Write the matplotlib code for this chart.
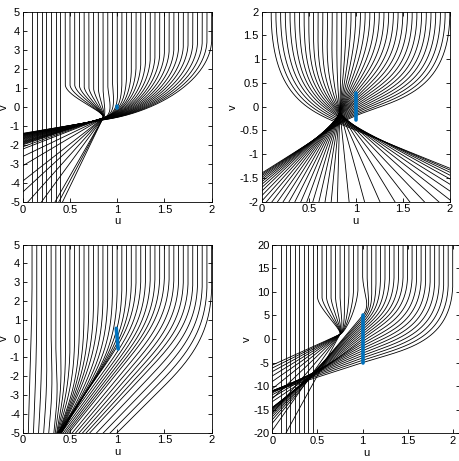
import numpy as np
import matplotlib.pyplot as plt

plt.rcParams['font.family'] = ['Liberation Sans', 'DejaVu Sans']
plt.rcParams['font.size'] = 8
plt.rcParams['axes.unicode_minus'] = False

blue = '#0072BD'

# starting u of every curve at the top of each panel
c_top = np.arange(0.1, 2.001, 0.05)

# knots over c: bend start v, focus point (u, v), exit slope du/d(-v), arm lengths
# panel 1 (top left)
p1_c = [0.10, 0.40, 0.45, 0.55, 0.65, 0.75, 0.85, 0.90, 1.00, 1.25, 1.50, 1.75, 2.00]
p1_vs = [1.0, 1.0, 1.2, 1.2, 1.1, 1.0, 1.0, 1.2, 1.6, 2.4, 3.0, 3.4, 3.6]
p1_fu = [0.10, 0.40, 0.85, 0.85, 0.85, 0.85, 0.85, 0.86, 0.87, 0.87, 0.88, 0.90, 0.92]
p1_fv = [0.0, 0.0, -0.58, -0.58, -0.58, -0.58, -0.58, -0.56, -0.54, -0.56, -0.58, -0.60, -0.62]
p1_k = [0.0, 0.0, -0.097, -0.115, -0.18, -0.256, -0.42, -0.52, -0.6, -0.7, -0.85, -1.03, -1.2]
p1_a = [0.4, 0.4, 0.25, 0.25, 0.25, 0.25, 0.3, 0.35, 0.35, 0.3, 0.3, 0.3, 0.3]
p1_b = [0.1, 0.1, 0.15, 0.15, 0.15, 0.15, 0.15, 0.35, 0.4, 0.4, 0.4, 0.4, 0.4]

# panel 2 (top right)
p2_c = [0.10, 0.30, 0.50, 0.70, 0.83, 1.00, 1.30, 1.60, 2.00]
p2_vs = [2.0] * 9
p2_fu = [0.83] * 9
p2_fv = [-0.36, -0.23, -0.14, -0.09, -0.08, -0.086, -0.125, -0.2, -0.36]
p2_k = [1.25, 0.907, 0.565, 0.223, 0.0, -0.116, -0.321, -0.526, -0.8]
p2_a = [0.6, 0.5, 0.4, 0.35, 0.3, 0.35, 0.45, 0.55, 0.6]
p2_b = [0.3, 0.35, 0.4, 0.4, 0.4, 0.4, 0.4, 0.35, 0.3]

# panel 3 (bottom left): focus = point on each exit line
p3_c = [0.10, 0.35, 0.45, 0.60, 0.80, 1.00, 1.20, 1.50, 1.80, 2.00]
p3_vs = [4.0, 0.0, 1.5, 2.0, 2.3, 2.9, 3.3, 3.5, 3.1, 3.0]
p3_fu = [0.065, 0.35, 0.395, 0.45, 0.49, 0.70, 0.77, 0.97, 1.20, 1.50]
p3_fv = [-4.0, -4.0, -4.0, -4.0, -4.0, -2.58, -2.14, -2.0, -2.36, -2.5]
p3_k = [-0.005, -0.02, -0.035, -0.07, -0.095, -0.12, -0.14, -0.16, -0.185, -0.2]
p3_a = [0.4] * 10
p3_b = [0.4] * 10

# panel 4 (bottom right)
p4_c = [0.10, 0.45, 0.50, 0.60, 0.70, 0.80, 0.95, 1.00, 1.50, 2.00]
p4_vs = [10.0, 10.0, 9.0, 9.0, 9.0, 10.0, 11.0, 14.0, 14.0, 12.0]
p4_fu = [0.10, 0.45, 0.75, 0.75, 0.75, 0.75, 0.75, 1.00, 1.00, 1.00]
p4_fv = [0.0, 0.0, 1.0, 1.0, 1.0, 1.0, 1.0, 5.0, 0.0, -5.0]
p4_k = [0.0, 0.0, -0.0286, -0.045, -0.065, -0.085, -0.115, -0.0438, -0.069, -0.162]
p4_a = [0.4, 0.4, 0.25, 0.25, 0.25, 0.3, 0.35, 0.5, 0.5, 0.5]
p4_b = [0.1, 0.1, 0.12, 0.12, 0.12, 0.15, 0.15, 0.35, 0.35, 0.35]

# blue marks
b1_u, b1_v = [1.0, 1.0], [-0.04, 0.04]
b2_u, b2_v = [1.0, 1.0], [-0.28, 0.28]
b3_u, b3_v = [0.99, 1.01], [0.55, -0.55]
b4_u, b4_v = [1.0, 1.0], [-5.0, 5.0]


def ray(c, vs, fu, fv, k, a, b, ur, vr):
    p0 = np.array([c / ur, vs / vr])
    p3 = np.array([fu / ur, fv / vr])
    d = np.array([k / ur, -1.0 / vr])
    d = d / np.hypot(*d)
    L = np.hypot(*(p3 - p0))
    p1 = p0 + np.array([0.0, -a * L])
    p2 = p3 - b * L * d
    t = np.linspace(0, 1, 250)[:, None]
    bez = (1 - t)**3 * p0 + 3 * (1 - t)**2 * t * p1 + 3 * (1 - t) * t**2 * p2 + t**3 * p3
    tail = p3 + np.linspace(0, 3, 30)[1:, None] * d
    pts = np.vstack([[[c / ur, 10.0]], bez, tail])
    return pts[:, 0] * ur, pts[:, 1] * vr


def panel(ax, knots, ylim, yticks, bu, bv, xmax=2.0):
    ck = knots[0]
    ur, vr = 2.0, ylim[1] - ylim[0]
    for c in c_top:
        vals = [np.interp(c, ck, arr) for arr in knots[1:]]
        u, v = ray(c, *vals, ur, vr)
        ax.plot(u, v, color='black', lw=0.6)
    ax.plot(bu, bv, color=blue, lw=2.6, solid_capstyle='round')
    ax.set_xlim(0, xmax)
    ax.set_ylim(*ylim)
    ax.set_xticks([0, 0.5, 1, 1.5, 2])
    ax.set_xticklabels(['0', '0.5', '1', '1.5', '2'])
    ax.set_yticks(yticks)
    ax.set_yticklabels(['%g' % t for t in yticks])
    ax.tick_params(direction='in', top=True, right=True, length=3, width=0.6, pad=2)
    for s in ax.spines.values():
        s.set_linewidth(0.6)
    ax.set_xlabel('u', labelpad=1)
    ax.set_ylabel('v', labelpad=1)


fig = plt.figure(figsize=(4.6, 4.61), dpi=100)
ax1 = fig.add_axes([0.0493, 0.5618, 0.411, 0.412])
ax2 = fig.add_axes([0.569, 0.5625, 0.409, 0.412])
ax3 = fig.add_axes([0.0493, 0.0614, 0.411, 0.408])
ax4 = fig.add_axes([0.592, 0.060, 0.407, 0.409])

yt5 = list(range(-5, 6))
panel(ax1, (p1_c, p1_vs, p1_fu, p1_fv, p1_k, p1_a, p1_b), (-5, 5), yt5, b1_u, b1_v)
panel(ax2, (p2_c, p2_vs, p2_fu, p2_fv, p2_k, p2_a, p2_b), (-2, 2),
      [-2, -1.5, -1, -0.5, 0, 0.5, 1, 1.5, 2], b2_u, b2_v)
panel(ax3, (p3_c, p3_vs, p3_fu, p3_fv, p3_k, p3_a, p3_b), (-5, 5), yt5, b3_u, b3_v)
panel(ax4, (p4_c, p4_vs, p4_fu, p4_fv, p4_k, p4_a, p4_b), (-20, 20),
      list(range(-20, 21, 5)), b4_u, b4_v, xmax=2.075)

fig.savefig('out.png', dpi=100)
